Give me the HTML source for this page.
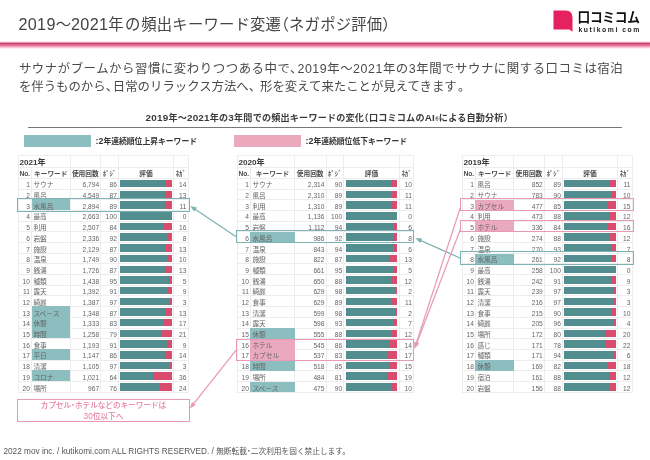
<!DOCTYPE html>
<html lang="ja"><head><meta charset="utf-8"><title>2019〜2021年の頻出キーワード変遷</title>
<style>
html,body{margin:0;padding:0;background:#fff}
body{width:650px;height:460px;position:relative;overflow:hidden;font-family:"Liberation Sans","Noto Sans CJK JP",sans-serif;color:#555}
.abs{position:absolute;white-space:nowrap}
#title{left:18.5px;top:13.1px;font-size:15.35px;line-height:22px;color:#444}
#title .d{font-size:16.2px;letter-spacing:0.3px}
.hp{font-feature-settings:"halt"}
#rule{left:0;top:41px;width:650px;height:8px;background:linear-gradient(#fff 0,#fbdde8 10%,#eb8fb0 20%,#bc4272 29%,#bc4272 34%,#e0608c 42%,#e96f98 55%,#f29bb8 68%,#f9cfdc 82%,#fff 100%)}
#lead{left:18.9px;top:60px;font-size:12.4px;line-height:18px;color:#4a4a4a}
#lead .l1{letter-spacing:0.55px}
#lead .cm1{margin-right:-5.4px}
#lead .cm{margin-right:-5.2px}
#lead .l2{position:relative;top:0.4px}
#lead .cm2{margin-right:-1.1px}
#lead .cm3{margin-right:1.2px}
#title .g1{margin-right:1.3px}
#title .g2{margin-right:1px}
#title .ls{letter-spacing:0.2px}
#sub .d{font-size:9.9px}
#sub{left:145.6px;top:111.8px;letter-spacing:0.2px;font-size:9.1px;line-height:12px;font-weight:bold;color:#3a3a3a}
#subrule{left:28px;top:126.5px;width:594px;height:1px;background:#777}
.lg{height:12px}
.n2{font-size:8.8px}
.lgt{font-size:7.8px;font-weight:bold;color:#333;line-height:12px}
.tbl{position:absolute;font-size:7px}
.tbl i{position:absolute;display:block}
.tbl .h{left:0;width:100%;height:1px;background:#ededed}
.tbl .v{top:0;height:100%;width:1px;background:#ededed}
.tbl b,.tbl span{position:absolute;white-space:nowrap}
.yr{font-size:8.1px;color:#3a3a3a}
.hd{font-size:6.7px;color:#4c4c4c;text-align:center;height:10.5px;line-height:12.7px}
.c{height:10.67px;line-height:13.3px;color:#646464;font-size:6.65px}
.k{font-size:6.7px}
.r{text-align:right}
.bar{height:7.5px}
.hl{height:10.69px}
.bx{position:absolute;display:block;border:1.4px solid;box-sizing:border-box}
#note{left:17px;top:399.3px;width:172.9px;height:22.4px;box-sizing:border-box;border:1px solid #e89ab4;background:#fff;color:#e5809f;font-weight:500;font-size:7.6px;line-height:10.1px;text-align:center;padding-top:0.3px}
#note .d{font-size:8.4px}
#foot{left:3.4px;top:446.6px;font-size:8.25px;line-height:10px;color:#555}
#foot span{font-size:7.7px}
#logo{left:553px;top:10px}
#lj{left:577.6px;top:8.9px;font-size:12.7px;line-height:18px;font-weight:700;color:#111;letter-spacing:-0.3px;transform:scaleY(1.07);transform-origin:0 50%}
#le{left:578.5px;top:24.8px;font-size:6.8px;line-height:9px;font-weight:bold;color:#222;letter-spacing:1.55px}
</style></head><body>
<div id="title" class="abs"><span class="d">2019</span>〜<span class="d">2021</span><span class="g1">年</span><span class="g2">の</span><span class="ls">頻出キーワード変遷<span class="hp">（</span>ネガポジ評価<span class="hp">）</span></span></div>
<svg id="logo" class="abs" width="21" height="23" viewBox="0 0 21 23"><path d="M0.5 0.6H12.5Q19.5 0.6 19.5 7.6V21.8L16.4 19.6H0.5Z" fill="#e5215f"/></svg>
<div id="lj" class="abs">口コミコム</div>
<div id="le" class="abs">kutikomi com</div>
<div id="rule" class="abs"></div>
<div id="lead" class="abs"><span class="l1">サウナがブームから習慣に変わりつつある中で<span class="cm1">、</span>2019年〜2021年の3年間でサウナに関する口コミは宿泊</span><br><span class="l2">を伴うものから<span class="cm">、</span>日常のリラックス方法へ<span class="cm2">、</span>形を変えて来たことが見えてきま<span class="cm3">す</span>。</span></div>
<div id="sub" class="abs"><span class="d">2019</span>年〜<span class="d">2021</span>年の<span class="d">3</span>年間での頻出キーワードの変化<span class="hp">（</span>口コミコムの<span class="d">AI</span><span style="font-size:5px">®</span>による自動分析<span class="hp">）</span></div>
<div id="subrule" class="abs"></div>
<div class="abs lg" style="left:23.5px;top:135px;width:67.4px;background:#8dbebf"></div>
<div class="abs lgt" style="left:95.6px;top:135.4px"><span class="n2">:2</span>年連続順位上昇キーワード</div>
<div class="abs lg" style="left:233.6px;top:135px;width:67.4px;background:#eca9be"></div>
<div class="abs lgt" style="left:305.6px;top:135.4px"><span class="n2">:2</span>年連続順位低下キーワード</div>

<div class="tbl" style="left:18px;top:155.1px;width:170px;height:237.1px">
<i class="h" style="top:-0.5px"></i>
<i class="h" style="top:12.3px"></i>
<i class="h" style="top:22.8px"></i>
<i class="h" style="top:33.49px"></i>
<i class="h" style="top:44.18px"></i>
<i class="h" style="top:54.87px"></i>
<i class="h" style="top:65.56px"></i>
<i class="h" style="top:76.25px"></i>
<i class="h" style="top:86.94px"></i>
<i class="h" style="top:97.63px"></i>
<i class="h" style="top:108.32px"></i>
<i class="h" style="top:119.01px"></i>
<i class="h" style="top:129.7px"></i>
<i class="h" style="top:140.39px"></i>
<i class="h" style="top:151.08px"></i>
<i class="h" style="top:161.77px"></i>
<i class="h" style="top:172.46px"></i>
<i class="h" style="top:183.15px"></i>
<i class="h" style="top:193.84px"></i>
<i class="h" style="top:204.53px"></i>
<i class="h" style="top:215.22px"></i>
<i class="h" style="top:225.91px"></i>
<i class="h" style="top:236.6px"></i>
<i class="v" style="left:-0.5px"></i>
<i class="v" style="left:13.1px;top:12.8px;height:224.3px"></i>
<i class="v" style="left:51.5px"></i>
<i class="v" style="left:82.1px"></i>
<i class="v" style="left:99.9px"></i>
<i class="v" style="left:155.1px"></i>
<i class="v" style="left:169.5px"></i>
<b class="yr" style="left:1.6px;top:0.9px;height:12.8px;line-height:13.8px">2021年</b>
<b class="hd " style="left:0px;width:13.6px;top:12.8px">No.</b>
<b class="hd " style="left:13.6px;width:38.4px;top:12.8px">キーワード</b>
<b class="hd " style="left:52px;width:30.6px;top:12.8px">使用回数</b>
<b class="hd " style="left:82.6px;width:17.8px;top:12.8px">ﾎﾟｼﾞ</b>
<b class="hd " style="left:100.4px;width:55.2px;top:12.8px">評価</b>
<b class="hd " style="left:155.6px;width:14.4px;top:12.8px">ﾈｶﾞ</b>
<span class="c r" style="left:0;width:12px;top:23.3px">1</span>
<span class="c k" style="left:15.4px;top:23.3px">サウナ</span>
<span class="c r" style="left:52px;width:29.1px;top:23.3px">6,794</span>
<span class="c r" style="left:82.6px;width:16.3px;top:23.3px">86</span>
<i class="bar" style="left:102.4px;width:51.8px;top:24.9px;background:linear-gradient(90deg,#528d8f 86%,#d94c6e 86%)"></i>
<span class="c r" style="left:155.6px;width:12.8px;top:23.3px">14</span>
<span class="c r" style="left:0;width:12px;top:33.99px">2</span>
<span class="c k" style="left:15.4px;top:33.99px">風呂</span>
<span class="c r" style="left:52px;width:29.1px;top:33.99px">4,549</span>
<span class="c r" style="left:82.6px;width:16.3px;top:33.99px">87</span>
<i class="bar" style="left:102.4px;width:51.8px;top:35.59px;background:linear-gradient(90deg,#528d8f 87%,#d94c6e 87%)"></i>
<span class="c r" style="left:155.6px;width:12.8px;top:33.99px">13</span>
<i class="hl" style="left:13.9px;width:38.3px;top:44.08px;background:#8dbebf"></i>
<span class="c r" style="left:0;width:12px;top:44.68px">3</span>
<span class="c k" style="left:15.4px;top:44.68px">水風呂</span>
<span class="c r" style="left:52px;width:29.1px;top:44.68px">2,894</span>
<span class="c r" style="left:82.6px;width:16.3px;top:44.68px">89</span>
<i class="bar" style="left:102.4px;width:51.8px;top:46.28px;background:linear-gradient(90deg,#528d8f 89%,#d94c6e 89%)"></i>
<span class="c r" style="left:155.6px;width:12.8px;top:44.68px">11</span>
<span class="c r" style="left:0;width:12px;top:55.37px">4</span>
<span class="c k" style="left:15.4px;top:55.37px">最高</span>
<span class="c r" style="left:52px;width:29.1px;top:55.37px">2,663</span>
<span class="c r" style="left:82.6px;width:16.3px;top:55.37px">100</span>
<i class="bar" style="left:102.4px;width:51.8px;top:56.97px;background:#528d8f"></i>
<span class="c r" style="left:155.6px;width:12.8px;top:55.37px">0</span>
<span class="c r" style="left:0;width:12px;top:66.06px">5</span>
<span class="c k" style="left:15.4px;top:66.06px">利用</span>
<span class="c r" style="left:52px;width:29.1px;top:66.06px">2,507</span>
<span class="c r" style="left:82.6px;width:16.3px;top:66.06px">84</span>
<i class="bar" style="left:102.4px;width:51.8px;top:67.66px;background:linear-gradient(90deg,#528d8f 84%,#d94c6e 84%)"></i>
<span class="c r" style="left:155.6px;width:12.8px;top:66.06px">16</span>
<span class="c r" style="left:0;width:12px;top:76.75px">6</span>
<span class="c k" style="left:15.4px;top:76.75px">岩盤</span>
<span class="c r" style="left:52px;width:29.1px;top:76.75px">2,336</span>
<span class="c r" style="left:82.6px;width:16.3px;top:76.75px">92</span>
<i class="bar" style="left:102.4px;width:51.8px;top:78.35px;background:linear-gradient(90deg,#528d8f 92%,#d94c6e 92%)"></i>
<span class="c r" style="left:155.6px;width:12.8px;top:76.75px">8</span>
<span class="c r" style="left:0;width:12px;top:87.44px">7</span>
<span class="c k" style="left:15.4px;top:87.44px">施設</span>
<span class="c r" style="left:52px;width:29.1px;top:87.44px">2,129</span>
<span class="c r" style="left:82.6px;width:16.3px;top:87.44px">87</span>
<i class="bar" style="left:102.4px;width:51.8px;top:89.04px;background:linear-gradient(90deg,#528d8f 87%,#d94c6e 87%)"></i>
<span class="c r" style="left:155.6px;width:12.8px;top:87.44px">13</span>
<span class="c r" style="left:0;width:12px;top:98.13px">8</span>
<span class="c k" style="left:15.4px;top:98.13px">温泉</span>
<span class="c r" style="left:52px;width:29.1px;top:98.13px">1,749</span>
<span class="c r" style="left:82.6px;width:16.3px;top:98.13px">90</span>
<i class="bar" style="left:102.4px;width:51.8px;top:99.73px;background:linear-gradient(90deg,#528d8f 90%,#d94c6e 90%)"></i>
<span class="c r" style="left:155.6px;width:12.8px;top:98.13px">10</span>
<span class="c r" style="left:0;width:12px;top:108.82px">9</span>
<span class="c k" style="left:15.4px;top:108.82px">銭湯</span>
<span class="c r" style="left:52px;width:29.1px;top:108.82px">1,726</span>
<span class="c r" style="left:82.6px;width:16.3px;top:108.82px">87</span>
<i class="bar" style="left:102.4px;width:51.8px;top:110.42px;background:linear-gradient(90deg,#528d8f 87%,#d94c6e 87%)"></i>
<span class="c r" style="left:155.6px;width:12.8px;top:108.82px">13</span>
<span class="c r" style="left:0;width:12px;top:119.51px">10</span>
<span class="c k" style="left:15.4px;top:119.51px">種類</span>
<span class="c r" style="left:52px;width:29.1px;top:119.51px">1,438</span>
<span class="c r" style="left:82.6px;width:16.3px;top:119.51px">95</span>
<i class="bar" style="left:102.4px;width:51.8px;top:121.11px;background:linear-gradient(90deg,#528d8f 95%,#d94c6e 95%)"></i>
<span class="c r" style="left:155.6px;width:12.8px;top:119.51px">5</span>
<span class="c r" style="left:0;width:12px;top:130.2px">11</span>
<span class="c k" style="left:15.4px;top:130.2px">露天</span>
<span class="c r" style="left:52px;width:29.1px;top:130.2px">1,392</span>
<span class="c r" style="left:82.6px;width:16.3px;top:130.2px">91</span>
<i class="bar" style="left:102.4px;width:51.8px;top:131.8px;background:linear-gradient(90deg,#528d8f 91%,#d94c6e 91%)"></i>
<span class="c r" style="left:155.6px;width:12.8px;top:130.2px">9</span>
<span class="c r" style="left:0;width:12px;top:140.89px">12</span>
<span class="c k" style="left:15.4px;top:140.89px">綺麗</span>
<span class="c r" style="left:52px;width:29.1px;top:140.89px">1,387</span>
<span class="c r" style="left:82.6px;width:16.3px;top:140.89px">97</span>
<i class="bar" style="left:102.4px;width:51.8px;top:142.49px;background:linear-gradient(90deg,#528d8f 97%,#d94c6e 97%)"></i>
<span class="c r" style="left:155.6px;width:12.8px;top:140.89px">3</span>
<i class="hl" style="left:13.9px;width:38.3px;top:150.98px;background:#8dbebf"></i>
<span class="c r" style="left:0;width:12px;top:151.58px">13</span>
<span class="c k" style="left:15.4px;top:151.58px">スペース</span>
<span class="c r" style="left:52px;width:29.1px;top:151.58px">1,348</span>
<span class="c r" style="left:82.6px;width:16.3px;top:151.58px">87</span>
<i class="bar" style="left:102.4px;width:51.8px;top:153.18px;background:linear-gradient(90deg,#528d8f 87%,#d94c6e 87%)"></i>
<span class="c r" style="left:155.6px;width:12.8px;top:151.58px">13</span>
<i class="hl" style="left:13.9px;width:38.3px;top:161.67px;background:#8dbebf"></i>
<span class="c r" style="left:0;width:12px;top:162.27px">14</span>
<span class="c k" style="left:15.4px;top:162.27px">休憩</span>
<span class="c r" style="left:52px;width:29.1px;top:162.27px">1,333</span>
<span class="c r" style="left:82.6px;width:16.3px;top:162.27px">83</span>
<i class="bar" style="left:102.4px;width:51.8px;top:163.87px;background:linear-gradient(90deg,#528d8f 83%,#d94c6e 83%)"></i>
<span class="c r" style="left:155.6px;width:12.8px;top:162.27px">17</span>
<i class="hl" style="left:13.9px;width:38.3px;top:172.36px;background:#8dbebf"></i>
<span class="c r" style="left:0;width:12px;top:172.96px">15</span>
<span class="c k" style="left:15.4px;top:172.96px">時間</span>
<span class="c r" style="left:52px;width:29.1px;top:172.96px">1,258</span>
<span class="c r" style="left:82.6px;width:16.3px;top:172.96px">79</span>
<i class="bar" style="left:102.4px;width:51.8px;top:174.56px;background:linear-gradient(90deg,#528d8f 79%,#d94c6e 79%)"></i>
<span class="c r" style="left:155.6px;width:12.8px;top:172.96px">21</span>
<span class="c r" style="left:0;width:12px;top:183.65px">16</span>
<span class="c k" style="left:15.4px;top:183.65px">食事</span>
<span class="c r" style="left:52px;width:29.1px;top:183.65px">1,193</span>
<span class="c r" style="left:82.6px;width:16.3px;top:183.65px">91</span>
<i class="bar" style="left:102.4px;width:51.8px;top:185.25px;background:linear-gradient(90deg,#528d8f 91%,#d94c6e 91%)"></i>
<span class="c r" style="left:155.6px;width:12.8px;top:183.65px">9</span>
<i class="hl" style="left:13.9px;width:38.3px;top:193.74px;background:#8dbebf"></i>
<span class="c r" style="left:0;width:12px;top:194.34px">17</span>
<span class="c k" style="left:15.4px;top:194.34px">平日</span>
<span class="c r" style="left:52px;width:29.1px;top:194.34px">1,147</span>
<span class="c r" style="left:82.6px;width:16.3px;top:194.34px">86</span>
<i class="bar" style="left:102.4px;width:51.8px;top:195.94px;background:linear-gradient(90deg,#528d8f 86%,#d94c6e 86%)"></i>
<span class="c r" style="left:155.6px;width:12.8px;top:194.34px">14</span>
<span class="c r" style="left:0;width:12px;top:205.03px">18</span>
<span class="c k" style="left:15.4px;top:205.03px">清潔</span>
<span class="c r" style="left:52px;width:29.1px;top:205.03px">1,105</span>
<span class="c r" style="left:82.6px;width:16.3px;top:205.03px">97</span>
<i class="bar" style="left:102.4px;width:51.8px;top:206.63px;background:linear-gradient(90deg,#528d8f 97%,#d94c6e 97%)"></i>
<span class="c r" style="left:155.6px;width:12.8px;top:205.03px">3</span>
<i class="hl" style="left:13.9px;width:38.3px;top:215.12px;background:#8dbebf"></i>
<span class="c r" style="left:0;width:12px;top:215.72px">19</span>
<span class="c k" style="left:15.4px;top:215.72px">コロナ</span>
<span class="c r" style="left:52px;width:29.1px;top:215.72px">1,021</span>
<span class="c r" style="left:82.6px;width:16.3px;top:215.72px">64</span>
<i class="bar" style="left:102.4px;width:51.8px;top:217.32px;background:linear-gradient(90deg,#528d8f 64%,#d94c6e 64%)"></i>
<span class="c r" style="left:155.6px;width:12.8px;top:215.72px">36</span>
<span class="c r" style="left:0;width:12px;top:226.41px">20</span>
<span class="c k" style="left:15.4px;top:226.41px">場所</span>
<span class="c r" style="left:52px;width:29.1px;top:226.41px">967</span>
<span class="c r" style="left:82.6px;width:16.3px;top:226.41px">76</span>
<i class="bar" style="left:102.4px;width:51.8px;top:228.01px;background:linear-gradient(90deg,#528d8f 76%,#d94c6e 76%)"></i>
<span class="c r" style="left:155.6px;width:12.8px;top:226.41px">24</span>
</div>
<div class="tbl" style="left:237px;top:155.1px;width:176.6px;height:237.1px">
<i class="h" style="top:-0.5px"></i>
<i class="h" style="top:12.3px"></i>
<i class="h" style="top:22.8px"></i>
<i class="h" style="top:33.49px"></i>
<i class="h" style="top:44.18px"></i>
<i class="h" style="top:54.87px"></i>
<i class="h" style="top:65.56px"></i>
<i class="h" style="top:76.25px"></i>
<i class="h" style="top:86.94px"></i>
<i class="h" style="top:97.63px"></i>
<i class="h" style="top:108.32px"></i>
<i class="h" style="top:119.01px"></i>
<i class="h" style="top:129.7px"></i>
<i class="h" style="top:140.39px"></i>
<i class="h" style="top:151.08px"></i>
<i class="h" style="top:161.77px"></i>
<i class="h" style="top:172.46px"></i>
<i class="h" style="top:183.15px"></i>
<i class="h" style="top:193.84px"></i>
<i class="h" style="top:204.53px"></i>
<i class="h" style="top:215.22px"></i>
<i class="h" style="top:225.91px"></i>
<i class="h" style="top:236.6px"></i>
<i class="v" style="left:-0.5px"></i>
<i class="v" style="left:13.1px;top:12.8px;height:224.3px"></i>
<i class="v" style="left:56.9px"></i>
<i class="v" style="left:88.5px"></i>
<i class="v" style="left:106.1px"></i>
<i class="v" style="left:161.9px"></i>
<i class="v" style="left:176.1px"></i>
<b class="yr" style="left:1.6px;top:0.9px;height:12.8px;line-height:13.8px">2020年</b>
<b class="hd " style="left:0px;width:13.6px;top:12.8px">No.</b>
<b class="hd " style="left:13.6px;width:43.8px;top:12.8px">キーワード</b>
<b class="hd " style="left:57.4px;width:31.6px;top:12.8px">使用回数</b>
<b class="hd " style="left:89px;width:17.6px;top:12.8px">ﾎﾟｼﾞ</b>
<b class="hd " style="left:106.6px;width:55.8px;top:12.8px">評価</b>
<b class="hd " style="left:162.4px;width:14.2px;top:12.8px">ﾈｶﾞ</b>
<span class="c r" style="left:0;width:12px;top:23.3px">1</span>
<span class="c k" style="left:15.4px;top:23.3px">サウナ</span>
<span class="c r" style="left:57.4px;width:30.1px;top:23.3px">2,314</span>
<span class="c r" style="left:89px;width:16.1px;top:23.3px">90</span>
<i class="bar" style="left:108.6px;width:51.8px;top:24.9px;background:linear-gradient(90deg,#528d8f 90%,#d94c6e 90%)"></i>
<span class="c r" style="left:162.4px;width:12.6px;top:23.3px">10</span>
<span class="c r" style="left:0;width:12px;top:33.99px">2</span>
<span class="c k" style="left:15.4px;top:33.99px">風呂</span>
<span class="c r" style="left:57.4px;width:30.1px;top:33.99px">2,310</span>
<span class="c r" style="left:89px;width:16.1px;top:33.99px">89</span>
<i class="bar" style="left:108.6px;width:51.8px;top:35.59px;background:linear-gradient(90deg,#528d8f 89%,#d94c6e 89%)"></i>
<span class="c r" style="left:162.4px;width:12.6px;top:33.99px">11</span>
<span class="c r" style="left:0;width:12px;top:44.68px">3</span>
<span class="c k" style="left:15.4px;top:44.68px">利用</span>
<span class="c r" style="left:57.4px;width:30.1px;top:44.68px">1,310</span>
<span class="c r" style="left:89px;width:16.1px;top:44.68px">89</span>
<i class="bar" style="left:108.6px;width:51.8px;top:46.28px;background:linear-gradient(90deg,#528d8f 89%,#d94c6e 89%)"></i>
<span class="c r" style="left:162.4px;width:12.6px;top:44.68px">11</span>
<span class="c r" style="left:0;width:12px;top:55.37px">4</span>
<span class="c k" style="left:15.4px;top:55.37px">最高</span>
<span class="c r" style="left:57.4px;width:30.1px;top:55.37px">1,136</span>
<span class="c r" style="left:89px;width:16.1px;top:55.37px">100</span>
<i class="bar" style="left:108.6px;width:51.8px;top:56.97px;background:#528d8f"></i>
<span class="c r" style="left:162.4px;width:12.6px;top:55.37px">0</span>
<span class="c r" style="left:0;width:12px;top:66.06px">5</span>
<span class="c k" style="left:15.4px;top:66.06px">岩盤</span>
<span class="c r" style="left:57.4px;width:30.1px;top:66.06px">1,112</span>
<span class="c r" style="left:89px;width:16.1px;top:66.06px">94</span>
<i class="bar" style="left:108.6px;width:51.8px;top:67.66px;background:linear-gradient(90deg,#528d8f 94%,#d94c6e 94%)"></i>
<span class="c r" style="left:162.4px;width:12.6px;top:66.06px">6</span>
<i class="hl" style="left:13px;width:45px;top:76.95px;background:#8dbebf"></i>
<span class="c r" style="left:0;width:12px;top:76.75px">6</span>
<span class="c k" style="left:15.4px;top:76.75px">水風呂</span>
<span class="c r" style="left:57.4px;width:30.1px;top:76.75px">986</span>
<span class="c r" style="left:89px;width:16.1px;top:76.75px">92</span>
<i class="bar" style="left:108.6px;width:51.8px;top:78.35px;background:linear-gradient(90deg,#528d8f 92%,#d94c6e 92%)"></i>
<span class="c r" style="left:162.4px;width:12.6px;top:76.75px">8</span>
<span class="c r" style="left:0;width:12px;top:87.44px">7</span>
<span class="c k" style="left:15.4px;top:87.44px">温泉</span>
<span class="c r" style="left:57.4px;width:30.1px;top:87.44px">843</span>
<span class="c r" style="left:89px;width:16.1px;top:87.44px">94</span>
<i class="bar" style="left:108.6px;width:51.8px;top:89.04px;background:linear-gradient(90deg,#528d8f 94%,#d94c6e 94%)"></i>
<span class="c r" style="left:162.4px;width:12.6px;top:87.44px">6</span>
<span class="c r" style="left:0;width:12px;top:98.13px">8</span>
<span class="c k" style="left:15.4px;top:98.13px">施設</span>
<span class="c r" style="left:57.4px;width:30.1px;top:98.13px">822</span>
<span class="c r" style="left:89px;width:16.1px;top:98.13px">87</span>
<i class="bar" style="left:108.6px;width:51.8px;top:99.73px;background:linear-gradient(90deg,#528d8f 87%,#d94c6e 87%)"></i>
<span class="c r" style="left:162.4px;width:12.6px;top:98.13px">13</span>
<span class="c r" style="left:0;width:12px;top:108.82px">9</span>
<span class="c k" style="left:15.4px;top:108.82px">種類</span>
<span class="c r" style="left:57.4px;width:30.1px;top:108.82px">661</span>
<span class="c r" style="left:89px;width:16.1px;top:108.82px">95</span>
<i class="bar" style="left:108.6px;width:51.8px;top:110.42px;background:linear-gradient(90deg,#528d8f 95%,#d94c6e 95%)"></i>
<span class="c r" style="left:162.4px;width:12.6px;top:108.82px">5</span>
<span class="c r" style="left:0;width:12px;top:119.51px">10</span>
<span class="c k" style="left:15.4px;top:119.51px">銭湯</span>
<span class="c r" style="left:57.4px;width:30.1px;top:119.51px">650</span>
<span class="c r" style="left:89px;width:16.1px;top:119.51px">88</span>
<i class="bar" style="left:108.6px;width:51.8px;top:121.11px;background:linear-gradient(90deg,#528d8f 88%,#d94c6e 88%)"></i>
<span class="c r" style="left:162.4px;width:12.6px;top:119.51px">12</span>
<span class="c r" style="left:0;width:12px;top:130.2px">11</span>
<span class="c k" style="left:15.4px;top:130.2px">綺麗</span>
<span class="c r" style="left:57.4px;width:30.1px;top:130.2px">629</span>
<span class="c r" style="left:89px;width:16.1px;top:130.2px">98</span>
<i class="bar" style="left:108.6px;width:51.8px;top:131.8px;background:linear-gradient(90deg,#528d8f 98%,#d94c6e 98%)"></i>
<span class="c r" style="left:162.4px;width:12.6px;top:130.2px">2</span>
<span class="c r" style="left:0;width:12px;top:140.89px">12</span>
<span class="c k" style="left:15.4px;top:140.89px">食事</span>
<span class="c r" style="left:57.4px;width:30.1px;top:140.89px">629</span>
<span class="c r" style="left:89px;width:16.1px;top:140.89px">89</span>
<i class="bar" style="left:108.6px;width:51.8px;top:142.49px;background:linear-gradient(90deg,#528d8f 89%,#d94c6e 89%)"></i>
<span class="c r" style="left:162.4px;width:12.6px;top:140.89px">11</span>
<span class="c r" style="left:0;width:12px;top:151.58px">13</span>
<span class="c k" style="left:15.4px;top:151.58px">清潔</span>
<span class="c r" style="left:57.4px;width:30.1px;top:151.58px">599</span>
<span class="c r" style="left:89px;width:16.1px;top:151.58px">98</span>
<i class="bar" style="left:108.6px;width:51.8px;top:153.18px;background:linear-gradient(90deg,#528d8f 98%,#d94c6e 98%)"></i>
<span class="c r" style="left:162.4px;width:12.6px;top:151.58px">2</span>
<span class="c r" style="left:0;width:12px;top:162.27px">14</span>
<span class="c k" style="left:15.4px;top:162.27px">露天</span>
<span class="c r" style="left:57.4px;width:30.1px;top:162.27px">598</span>
<span class="c r" style="left:89px;width:16.1px;top:162.27px">93</span>
<i class="bar" style="left:108.6px;width:51.8px;top:163.87px;background:linear-gradient(90deg,#528d8f 93%,#d94c6e 93%)"></i>
<span class="c r" style="left:162.4px;width:12.6px;top:162.27px">7</span>
<i class="hl" style="left:13px;width:45px;top:173.16px;background:#8dbebf"></i>
<span class="c r" style="left:0;width:12px;top:172.96px">15</span>
<span class="c k" style="left:15.4px;top:172.96px">休憩</span>
<span class="c r" style="left:57.4px;width:30.1px;top:172.96px">555</span>
<span class="c r" style="left:89px;width:16.1px;top:172.96px">88</span>
<i class="bar" style="left:108.6px;width:51.8px;top:174.56px;background:linear-gradient(90deg,#528d8f 88%,#d94c6e 88%)"></i>
<span class="c r" style="left:162.4px;width:12.6px;top:172.96px">12</span>
<i class="hl" style="left:13px;width:45px;top:183.85px;background:#eaa9bf"></i>
<span class="c r" style="left:0;width:12px;top:183.65px">16</span>
<span class="c k" style="left:15.4px;top:183.65px">ホテル</span>
<span class="c r" style="left:57.4px;width:30.1px;top:183.65px">545</span>
<span class="c r" style="left:89px;width:16.1px;top:183.65px">86</span>
<i class="bar" style="left:108.6px;width:51.8px;top:185.25px;background:linear-gradient(90deg,#528d8f 86%,#d94c6e 86%)"></i>
<span class="c r" style="left:162.4px;width:12.6px;top:183.65px">14</span>
<i class="hl" style="left:13px;width:45px;top:194.54px;background:#eaa9bf"></i>
<span class="c r" style="left:0;width:12px;top:194.34px">17</span>
<span class="c k" style="left:15.4px;top:194.34px">カプセル</span>
<span class="c r" style="left:57.4px;width:30.1px;top:194.34px">537</span>
<span class="c r" style="left:89px;width:16.1px;top:194.34px">83</span>
<i class="bar" style="left:108.6px;width:51.8px;top:195.94px;background:linear-gradient(90deg,#528d8f 83%,#d94c6e 83%)"></i>
<span class="c r" style="left:162.4px;width:12.6px;top:194.34px">17</span>
<i class="hl" style="left:13px;width:45px;top:205.23px;background:#8dbebf"></i>
<span class="c r" style="left:0;width:12px;top:205.03px">18</span>
<span class="c k" style="left:15.4px;top:205.03px">時間</span>
<span class="c r" style="left:57.4px;width:30.1px;top:205.03px">518</span>
<span class="c r" style="left:89px;width:16.1px;top:205.03px">85</span>
<i class="bar" style="left:108.6px;width:51.8px;top:206.63px;background:linear-gradient(90deg,#528d8f 85%,#d94c6e 85%)"></i>
<span class="c r" style="left:162.4px;width:12.6px;top:205.03px">15</span>
<span class="c r" style="left:0;width:12px;top:215.72px">19</span>
<span class="c k" style="left:15.4px;top:215.72px">場所</span>
<span class="c r" style="left:57.4px;width:30.1px;top:215.72px">484</span>
<span class="c r" style="left:89px;width:16.1px;top:215.72px">81</span>
<i class="bar" style="left:108.6px;width:51.8px;top:217.32px;background:linear-gradient(90deg,#528d8f 81%,#d94c6e 81%)"></i>
<span class="c r" style="left:162.4px;width:12.6px;top:215.72px">19</span>
<i class="hl" style="left:13px;width:45px;top:226.61px;background:#8dbebf"></i>
<span class="c r" style="left:0;width:12px;top:226.41px">20</span>
<span class="c k" style="left:15.4px;top:226.41px">スペース</span>
<span class="c r" style="left:57.4px;width:30.1px;top:226.41px">475</span>
<span class="c r" style="left:89px;width:16.1px;top:226.41px">90</span>
<i class="bar" style="left:108.6px;width:51.8px;top:228.01px;background:linear-gradient(90deg,#528d8f 90%,#d94c6e 90%)"></i>
<span class="c r" style="left:162.4px;width:12.6px;top:226.41px">10</span>
</div>
<div class="tbl" style="left:462px;top:155.1px;width:170px;height:237.1px">
<i class="h" style="top:-0.5px"></i>
<i class="h" style="top:12.3px"></i>
<i class="h" style="top:22.8px"></i>
<i class="h" style="top:33.49px"></i>
<i class="h" style="top:44.18px"></i>
<i class="h" style="top:54.87px"></i>
<i class="h" style="top:65.56px"></i>
<i class="h" style="top:76.25px"></i>
<i class="h" style="top:86.94px"></i>
<i class="h" style="top:97.63px"></i>
<i class="h" style="top:108.32px"></i>
<i class="h" style="top:119.01px"></i>
<i class="h" style="top:129.7px"></i>
<i class="h" style="top:140.39px"></i>
<i class="h" style="top:151.08px"></i>
<i class="h" style="top:161.77px"></i>
<i class="h" style="top:172.46px"></i>
<i class="h" style="top:183.15px"></i>
<i class="h" style="top:193.84px"></i>
<i class="h" style="top:204.53px"></i>
<i class="h" style="top:215.22px"></i>
<i class="h" style="top:225.91px"></i>
<i class="h" style="top:236.6px"></i>
<i class="v" style="left:-0.5px"></i>
<i class="v" style="left:13.1px;top:12.8px;height:224.3px"></i>
<i class="v" style="left:51.1px"></i>
<i class="v" style="left:81.8px"></i>
<i class="v" style="left:99.9px"></i>
<i class="v" style="left:155.1px"></i>
<i class="v" style="left:169.5px"></i>
<b class="yr" style="left:1.6px;top:0.9px;height:12.8px;line-height:13.8px">2019年</b>
<b class="hd " style="left:0px;width:13.6px;top:12.8px">No.</b>
<b class="hd " style="left:13.6px;width:38px;top:12.8px">キーワード</b>
<b class="hd " style="left:51.6px;width:30.7px;top:12.8px">使用回数</b>
<b class="hd " style="left:82.3px;width:18.1px;top:12.8px">ﾎﾟｼﾞ</b>
<b class="hd " style="left:100.4px;width:55.2px;top:12.8px">評価</b>
<b class="hd " style="left:155.6px;width:14.4px;top:12.8px">ﾈｶﾞ</b>
<span class="c r" style="left:0;width:12px;top:23.3px">1</span>
<span class="c k" style="left:15.4px;top:23.3px">風呂</span>
<span class="c r" style="left:51.6px;width:29.2px;top:23.3px">852</span>
<span class="c r" style="left:82.3px;width:16.6px;top:23.3px">89</span>
<i class="bar" style="left:102.4px;width:51.8px;top:24.9px;background:linear-gradient(90deg,#528d8f 89%,#d94c6e 89%)"></i>
<span class="c r" style="left:155.6px;width:12.8px;top:23.3px">11</span>
<span class="c r" style="left:0;width:12px;top:33.99px">2</span>
<span class="c k" style="left:15.4px;top:33.99px">サウナ</span>
<span class="c r" style="left:51.6px;width:29.2px;top:33.99px">783</span>
<span class="c r" style="left:82.3px;width:16.6px;top:33.99px">90</span>
<i class="bar" style="left:102.4px;width:51.8px;top:35.59px;background:linear-gradient(90deg,#528d8f 90%,#d94c6e 90%)"></i>
<span class="c r" style="left:155.6px;width:12.8px;top:33.99px">10</span>
<i class="hl" style="left:13px;width:38.6px;top:44.98px;background:#eaa9bf"></i>
<span class="c r" style="left:0;width:12px;top:44.68px">3</span>
<span class="c k" style="left:15.4px;top:44.68px">カプセル</span>
<span class="c r" style="left:51.6px;width:29.2px;top:44.68px">477</span>
<span class="c r" style="left:82.3px;width:16.6px;top:44.68px">85</span>
<i class="bar" style="left:102.4px;width:51.8px;top:46.28px;background:linear-gradient(90deg,#528d8f 85%,#d94c6e 85%)"></i>
<span class="c r" style="left:155.6px;width:12.8px;top:44.68px">15</span>
<span class="c r" style="left:0;width:12px;top:55.37px">4</span>
<span class="c k" style="left:15.4px;top:55.37px">利用</span>
<span class="c r" style="left:51.6px;width:29.2px;top:55.37px">473</span>
<span class="c r" style="left:82.3px;width:16.6px;top:55.37px">88</span>
<i class="bar" style="left:102.4px;width:51.8px;top:56.97px;background:linear-gradient(90deg,#528d8f 88%,#d94c6e 88%)"></i>
<span class="c r" style="left:155.6px;width:12.8px;top:55.37px">12</span>
<i class="hl" style="left:13px;width:38.6px;top:66.36px;background:#eaa9bf"></i>
<span class="c r" style="left:0;width:12px;top:66.06px">5</span>
<span class="c k" style="left:15.4px;top:66.06px">ホテル</span>
<span class="c r" style="left:51.6px;width:29.2px;top:66.06px">336</span>
<span class="c r" style="left:82.3px;width:16.6px;top:66.06px">84</span>
<i class="bar" style="left:102.4px;width:51.8px;top:67.66px;background:linear-gradient(90deg,#528d8f 84%,#d94c6e 84%)"></i>
<span class="c r" style="left:155.6px;width:12.8px;top:66.06px">16</span>
<span class="c r" style="left:0;width:12px;top:76.75px">6</span>
<span class="c k" style="left:15.4px;top:76.75px">施設</span>
<span class="c r" style="left:51.6px;width:29.2px;top:76.75px">274</span>
<span class="c r" style="left:82.3px;width:16.6px;top:76.75px">88</span>
<i class="bar" style="left:102.4px;width:51.8px;top:78.35px;background:linear-gradient(90deg,#528d8f 88%,#d94c6e 88%)"></i>
<span class="c r" style="left:155.6px;width:12.8px;top:76.75px">12</span>
<span class="c r" style="left:0;width:12px;top:87.44px">7</span>
<span class="c k" style="left:15.4px;top:87.44px">温泉</span>
<span class="c r" style="left:51.6px;width:29.2px;top:87.44px">270</span>
<span class="c r" style="left:82.3px;width:16.6px;top:87.44px">93</span>
<i class="bar" style="left:102.4px;width:51.8px;top:89.04px;background:linear-gradient(90deg,#528d8f 93%,#d94c6e 93%)"></i>
<span class="c r" style="left:155.6px;width:12.8px;top:87.44px">7</span>
<i class="hl" style="left:13px;width:38.6px;top:98.43px;background:#8dbebf"></i>
<span class="c r" style="left:0;width:12px;top:98.13px">8</span>
<span class="c k" style="left:15.4px;top:98.13px">水風呂</span>
<span class="c r" style="left:51.6px;width:29.2px;top:98.13px">261</span>
<span class="c r" style="left:82.3px;width:16.6px;top:98.13px">92</span>
<i class="bar" style="left:102.4px;width:51.8px;top:99.73px;background:linear-gradient(90deg,#528d8f 92%,#d94c6e 92%)"></i>
<span class="c r" style="left:155.6px;width:12.8px;top:98.13px">8</span>
<span class="c r" style="left:0;width:12px;top:108.82px">9</span>
<span class="c k" style="left:15.4px;top:108.82px">最高</span>
<span class="c r" style="left:51.6px;width:29.2px;top:108.82px">258</span>
<span class="c r" style="left:82.3px;width:16.6px;top:108.82px">100</span>
<i class="bar" style="left:102.4px;width:51.8px;top:110.42px;background:#528d8f"></i>
<span class="c r" style="left:155.6px;width:12.8px;top:108.82px">0</span>
<span class="c r" style="left:0;width:12px;top:119.51px">10</span>
<span class="c k" style="left:15.4px;top:119.51px">銭湯</span>
<span class="c r" style="left:51.6px;width:29.2px;top:119.51px">242</span>
<span class="c r" style="left:82.3px;width:16.6px;top:119.51px">91</span>
<i class="bar" style="left:102.4px;width:51.8px;top:121.11px;background:linear-gradient(90deg,#528d8f 91%,#d94c6e 91%)"></i>
<span class="c r" style="left:155.6px;width:12.8px;top:119.51px">9</span>
<span class="c r" style="left:0;width:12px;top:130.2px">11</span>
<span class="c k" style="left:15.4px;top:130.2px">露天</span>
<span class="c r" style="left:51.6px;width:29.2px;top:130.2px">239</span>
<span class="c r" style="left:82.3px;width:16.6px;top:130.2px">97</span>
<i class="bar" style="left:102.4px;width:51.8px;top:131.8px;background:linear-gradient(90deg,#528d8f 97%,#d94c6e 97%)"></i>
<span class="c r" style="left:155.6px;width:12.8px;top:130.2px">3</span>
<span class="c r" style="left:0;width:12px;top:140.89px">12</span>
<span class="c k" style="left:15.4px;top:140.89px">清潔</span>
<span class="c r" style="left:51.6px;width:29.2px;top:140.89px">216</span>
<span class="c r" style="left:82.3px;width:16.6px;top:140.89px">97</span>
<i class="bar" style="left:102.4px;width:51.8px;top:142.49px;background:linear-gradient(90deg,#528d8f 97%,#d94c6e 97%)"></i>
<span class="c r" style="left:155.6px;width:12.8px;top:140.89px">3</span>
<span class="c r" style="left:0;width:12px;top:151.58px">13</span>
<span class="c k" style="left:15.4px;top:151.58px">食事</span>
<span class="c r" style="left:51.6px;width:29.2px;top:151.58px">215</span>
<span class="c r" style="left:82.3px;width:16.6px;top:151.58px">90</span>
<i class="bar" style="left:102.4px;width:51.8px;top:153.18px;background:linear-gradient(90deg,#528d8f 90%,#d94c6e 90%)"></i>
<span class="c r" style="left:155.6px;width:12.8px;top:151.58px">10</span>
<span class="c r" style="left:0;width:12px;top:162.27px">14</span>
<span class="c k" style="left:15.4px;top:162.27px">綺麗</span>
<span class="c r" style="left:51.6px;width:29.2px;top:162.27px">205</span>
<span class="c r" style="left:82.3px;width:16.6px;top:162.27px">96</span>
<i class="bar" style="left:102.4px;width:51.8px;top:163.87px;background:linear-gradient(90deg,#528d8f 96%,#d94c6e 96%)"></i>
<span class="c r" style="left:155.6px;width:12.8px;top:162.27px">4</span>
<span class="c r" style="left:0;width:12px;top:172.96px">15</span>
<span class="c k" style="left:15.4px;top:172.96px">場所</span>
<span class="c r" style="left:51.6px;width:29.2px;top:172.96px">172</span>
<span class="c r" style="left:82.3px;width:16.6px;top:172.96px">80</span>
<i class="bar" style="left:102.4px;width:51.8px;top:174.56px;background:linear-gradient(90deg,#528d8f 80%,#d94c6e 80%)"></i>
<span class="c r" style="left:155.6px;width:12.8px;top:172.96px">20</span>
<span class="c r" style="left:0;width:12px;top:183.65px">16</span>
<span class="c k" style="left:15.4px;top:183.65px">感じ</span>
<span class="c r" style="left:51.6px;width:29.2px;top:183.65px">171</span>
<span class="c r" style="left:82.3px;width:16.6px;top:183.65px">78</span>
<i class="bar" style="left:102.4px;width:51.8px;top:185.25px;background:linear-gradient(90deg,#528d8f 78%,#d94c6e 78%)"></i>
<span class="c r" style="left:155.6px;width:12.8px;top:183.65px">22</span>
<span class="c r" style="left:0;width:12px;top:194.34px">17</span>
<span class="c k" style="left:15.4px;top:194.34px">種類</span>
<span class="c r" style="left:51.6px;width:29.2px;top:194.34px">171</span>
<span class="c r" style="left:82.3px;width:16.6px;top:194.34px">94</span>
<i class="bar" style="left:102.4px;width:51.8px;top:195.94px;background:linear-gradient(90deg,#528d8f 94%,#d94c6e 94%)"></i>
<span class="c r" style="left:155.6px;width:12.8px;top:194.34px">6</span>
<i class="hl" style="left:13px;width:38.6px;top:205.33px;background:#8dbebf"></i>
<span class="c r" style="left:0;width:12px;top:205.03px">18</span>
<span class="c k" style="left:15.4px;top:205.03px">休憩</span>
<span class="c r" style="left:51.6px;width:29.2px;top:205.03px">169</span>
<span class="c r" style="left:82.3px;width:16.6px;top:205.03px">82</span>
<i class="bar" style="left:102.4px;width:51.8px;top:206.63px;background:linear-gradient(90deg,#528d8f 82%,#d94c6e 82%)"></i>
<span class="c r" style="left:155.6px;width:12.8px;top:205.03px">18</span>
<span class="c r" style="left:0;width:12px;top:215.72px">19</span>
<span class="c k" style="left:15.4px;top:215.72px">宿泊</span>
<span class="c r" style="left:51.6px;width:29.2px;top:215.72px">161</span>
<span class="c r" style="left:82.3px;width:16.6px;top:215.72px">88</span>
<i class="bar" style="left:102.4px;width:51.8px;top:217.32px;background:linear-gradient(90deg,#528d8f 88%,#d94c6e 88%)"></i>
<span class="c r" style="left:155.6px;width:12.8px;top:215.72px">12</span>
<span class="c r" style="left:0;width:12px;top:226.41px">20</span>
<span class="c k" style="left:15.4px;top:226.41px">岩盤</span>
<span class="c r" style="left:51.6px;width:29.2px;top:226.41px">156</span>
<span class="c r" style="left:82.3px;width:16.6px;top:226.41px">88</span>
<i class="bar" style="left:102.4px;width:51.8px;top:228.01px;background:linear-gradient(90deg,#528d8f 88%,#d94c6e 88%)"></i>
<span class="c r" style="left:155.6px;width:12.8px;top:226.41px">12</span>
</div>
<i class="bx" style="left:16.5px;top:198.38px;width:173.3px;height:13.79px;border-color:#7db4b3"></i>
<i class="bx" style="left:236px;top:229.85px;width:178.3px;height:13.59px;border-color:#7db4b3"></i>
<i class="bx" style="left:236px;top:338.65px;width:178.3px;height:22.68px;border-color:#e89ab4"></i>
<i class="bx" style="left:460.3px;top:198.23px;width:173.3px;height:12.89px;border-color:#e89ab4"></i>
<i class="bx" style="left:460.3px;top:219.61px;width:173.3px;height:12.89px;border-color:#e89ab4"></i>
<i class="bx" style="left:460.3px;top:251.23px;width:173.3px;height:13.59px;border-color:#7db4b3"></i>
<div id="note" class="abs">カプセル<span class="hp">・</span>ホテルなどのキーワードは<br><span class="d">30</span>位以下へ</div>
<svg class="abs" style="left:0;top:0" width="650" height="460" viewBox="0 0 650 460" fill="none">
<g stroke="#7db4b3" stroke-width="1.25"><path d="M236.1 236.7L194.77 209.06"/><path d="M460.5 258.2L420.33 240.33"/></g>
<g fill="#7db4b3"><path d="M190.2 206L196.96 207.58L194.24 211.65Z"/><path d="M415.3 238.1L422.23 238.5L420.24 242.98Z"/></g>
<g stroke="#e89ab4" stroke-width="1.25"><path d="M460.4 207.4L416.2 343.37"/><path d="M460.4 229.2L416.67 343.46"/><path d="M236.1 350.2L193.32 404.19"/></g>
<g fill="#e89ab4"><path d="M414.5 348.6L414.18 341.66L418.84 343.18Z"/><path d="M414.7 348.6L414.74 341.65L419.31 343.41Z"/><path d="M189.9 408.5L192.02 401.88L195.86 404.93Z"/></g>
</svg>
<div id="foot" class="abs">2022 mov inc. / kutikomi.com ALL RIGHTS RESERVED. / <span>無断転載<span class="hp">・</span>二次利用を固く禁止します。</span></div>
</body></html>
